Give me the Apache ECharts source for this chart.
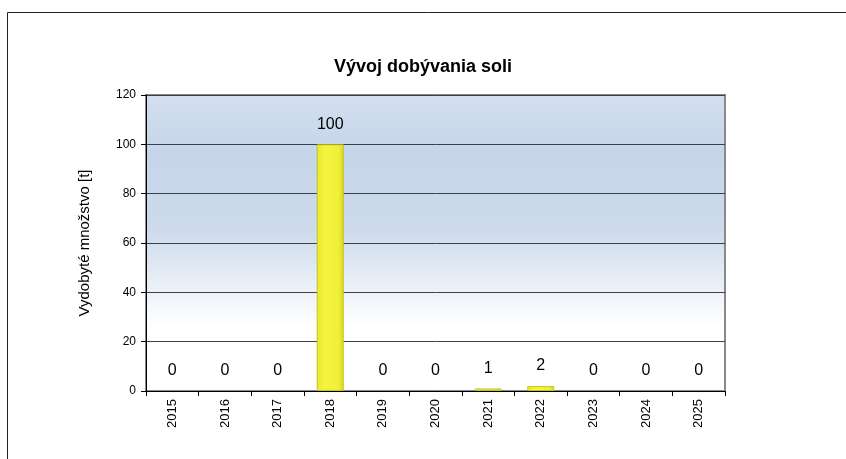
<!DOCTYPE html>
<html><head><meta charset="utf-8">
<script src="https://cdn.jsdelivr.net/npm/echarts@6/dist/echarts.min.js"></script>
<style>html,body{margin:0;padding:0;background:#fff}#c{width:846px;height:459px}</style>
</head><body><div id="c"></div>
<script>
var titleText = 'Vývoj dobývania soli';
var yAxisName = 'Vydobyté množstvo [t]';
var years = ['2015','2016','2017','2018','2019','2020','2021','2022','2023','2024','2025'];
var amounts = [0,0,0,100,0,0,1,2,0,0,0];
var yMin = 0, yMax = 120, yStep = 20;

var chart = echarts.init(document.getElementById('c'));
var font = '"Liberation Sans", Arial, sans-serif';
var barData = amounts.map(function (v) {
  return v === 0 ? {value: v, itemStyle: {borderWidth: 0, opacity: 0}} : {value: v};
});
chart.setOption({
  animation: false,
  backgroundColor: '#ffffff',
  title: {
    text: titleText, left: 'center', top: 53,
    textStyle: {fontFamily: font, fontSize: 18, fontWeight: 'bold', color: '#000'}
  },
  graphic: [{
    type: 'rect', shape: {x: 7.5, y: 12.5, width: 900, height: 500},
    style: {fill: 'none', stroke: '#222', lineWidth: 1}, z: -1
  }],
  grid: {
    left: 146, right: 121, top: 95, bottom: 68,
    show: true, borderColor: '#888', borderWidth: 2,
    backgroundColor: {
      type: 'linear', x: 0, y: 0, x2: 0, y2: 1,
      colorStops: [
        {offset: 0, color: '#d4dfee'},
        {offset: 0.2, color: '#c5d5e9'},
        {offset: 0.45, color: '#cddaeb'},
        {offset: 0.62, color: '#e6edf5'},
        {offset: 0.78, color: '#ffffff'},
        {offset: 1, color: '#ffffff'}
      ]
    }
  },
  xAxis: {
    type: 'category', data: years, boundaryGap: true,
    axisLine: {show: true, lineStyle: {color: '#000', width: 1}},
    axisTick: {show: true, alignWithLabel: false, length: 5, lineStyle: {color: '#000'}},
    axisLabel: {rotate: 90, fontFamily: font, fontSize: 13, color: '#000', margin: 8}
  },
  yAxis: {
    type: 'value', min: yMin, max: yMax, interval: yStep,
    name: yAxisName, nameLocation: 'middle', nameGap: 54,
    nameTextStyle: {fontFamily: font, fontSize: 15, color: '#000'},
    axisLine: {show: true, lineStyle: {color: '#000', width: 1}},
    axisTick: {show: true, length: 5, lineStyle: {color: '#000'}},
    axisLabel: {fontFamily: font, fontSize: 12, color: '#000', margin: 10},
    splitLine: {show: true, lineStyle: {color: '#3a3f48', width: 1}}
  },
  series: [{
    type: 'bar', data: barData, barWidth: 27,
    itemStyle: {
      color: {
        type: 'linear', x: 0, y: 0, x2: 1, y2: 0,
        colorStops: [
          {offset: 0, color: '#e8e830'},
          {offset: 0.3, color: '#f4f440'},
          {offset: 0.8, color: '#f0f038'},
          {offset: 1, color: '#d8d820'}
        ]
      },
      borderColor: '#c4c41c', borderWidth: 1
    },
    label: {
      show: true, position: 'top', distance: 12,
      fontFamily: font, fontSize: 16, color: '#000', opacity: 1
    }
  }]
});
</script></body></html>
